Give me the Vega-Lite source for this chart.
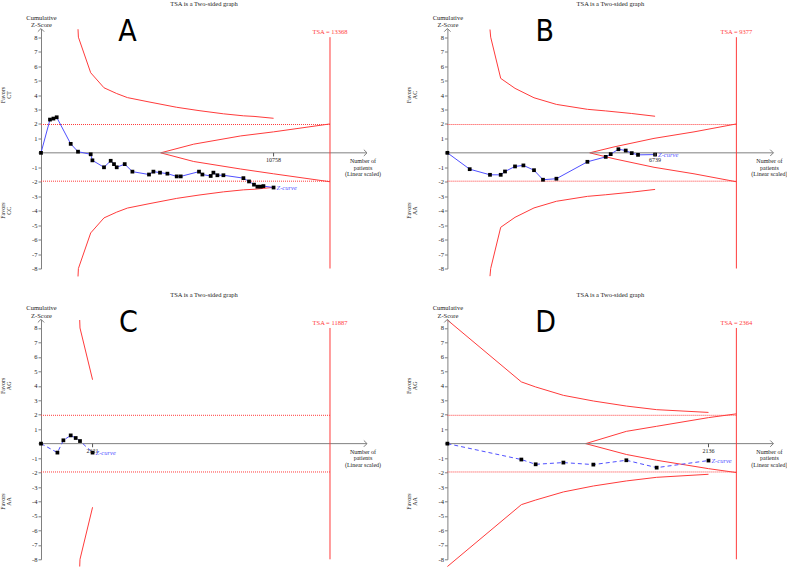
{
"$schema": "https://vega.github.io/schema/vega-lite/v6.json",
"padding": {"left": 0, "top": 0.5, "right": 0, "bottom": 0},
"columns": 2,
"spacing": {"row": 50.8, "column": 80.4},
"bounds": "flush",
"datasets": {
"one": [{}],
"A": [
{"s":"z","n":0,"z":0},{"s":"z","n":416,"z":2.3},{"s":"z","n":574,"z":2.37},{"s":"z","n":726,"z":2.46},{"s":"z","n":1374,"z":0.62},{"s":"z","n":1712,"z":0.08},{"s":"z","n":2299,"z":-0.1},{"s":"z","n":2378,"z":-0.52},{"s":"z","n":2914,"z":-1.0},{"s":"z","n":3224,"z":-0.55},{"s":"z","n":3377,"z":-0.78},{"s":"z","n":3502,"z":-1.0},{"s":"z","n":3872,"z":-0.78},{"s":"z","n":4228,"z":-1.3},{"s":"z","n":4996,"z":-1.5},{"s":"z","n":5200,"z":-1.3},{"s":"z","n":5505,"z":-1.37},{"s":"z","n":5847,"z":-1.44},{"s":"z","n":6278,"z":-1.63},{"s":"z","n":6463,"z":-1.63},{"s":"z","n":7309,"z":-1.3},{"s":"z","n":7466,"z":-1.5},{"s":"z","n":7850,"z":-1.6},{"s":"z","n":7975,"z":-1.37},{"s":"z","n":8160,"z":-1.55},{"s":"z","n":8438,"z":-1.55},{"s":"z","n":9363,"z":-1.75},{"s":"z","n":9622,"z":-1.98},{"s":"z","n":9853,"z":-2.2},{"s":"z","n":10011,"z":-2.34},{"s":"z","n":10163,"z":-2.34},{"s":"z","n":10288,"z":-2.3},{"s":"z","n":10758,"z":-2.4},
{"s":"u","n":1712,"z":8.55},{"s":"u","n":1730,"z":8.0},{"s":"u","n":2299,"z":5.54},{"s":"u","n":2914,"z":4.5},{"s":"u","n":3502,"z":4.1},{"s":"u","n":3997,"z":3.82},{"s":"u","n":4996,"z":3.52},{"s":"u","n":6278,"z":3.15},{"s":"u","n":7309,"z":2.92},{"s":"u","n":8438,"z":2.7},{"s":"u","n":9363,"z":2.56},{"s":"u","n":9853,"z":2.52},{"s":"u","n":10758,"z":2.39},
{"s":"l","n":1712,"z":-8.55},{"s":"l","n":1730,"z":-8.0},{"s":"l","n":2299,"z":-5.54},{"s":"l","n":2914,"z":-4.5},{"s":"l","n":3502,"z":-4.1},{"s":"l","n":3997,"z":-3.82},{"s":"l","n":4996,"z":-3.52},{"s":"l","n":6278,"z":-3.15},{"s":"l","n":7309,"z":-2.92},{"s":"l","n":8438,"z":-2.7},{"s":"l","n":9363,"z":-2.56},{"s":"l","n":9853,"z":-2.52},{"s":"l","n":10758,"z":-2.39},
{"s":"fu","n":5537,"z":0},{"s":"fu","n":7064,"z":0.6},{"s":"fu","n":9238,"z":1.17},{"s":"fu","n":10758,"z":1.45},{"s":"fu","n":13368,"z":2.0},
{"s":"fl","n":5537,"z":0},{"s":"fl","n":7064,"z":-0.6},{"s":"fl","n":9238,"z":-1.12},{"s":"fl","n":10758,"z":-1.45},{"s":"fl","n":13368,"z":-2.0}
],
"B": [
{"s":"z","n":0,"z":0},{"s":"z","n":724,"z":-1.13},{"s":"z","n":1382,"z":-1.52},{"s":"z","n":1730,"z":-1.52},{"s":"z","n":1869,"z":-1.29},{"s":"z","n":2194,"z":-0.94},{"s":"z","n":2466,"z":-0.87},{"s":"z","n":2810,"z":-1.2},{"s":"z","n":3102,"z":-1.86},{"s":"z","n":3537,"z":-1.79},{"s":"z","n":4543,"z":-0.62},{"s":"z","n":5137,"z":-0.28},{"s":"z","n":5299,"z":-0.09},{"s":"z","n":5549,"z":0.25},{"s":"z","n":5786,"z":0.16},{"s":"z","n":5981,"z":-0.02},{"s":"z","n":6185,"z":-0.14},{"s":"z","n":6739,"z":-0.12},
{"s":"u","n":1382,"z":8.53},{"s":"u","n":1405,"z":8.0},{"s":"u","n":1730,"z":5.15},{"s":"u","n":2194,"z":4.46},{"s":"u","n":2810,"z":3.81},{"s":"u","n":3537,"z":3.35},{"s":"u","n":4543,"z":3.01},{"s":"u","n":5137,"z":2.9},{"s":"u","n":5981,"z":2.72},{"s":"u","n":6739,"z":2.53},
{"s":"l","n":1382,"z":-8.53},{"s":"l","n":1405,"z":-8.0},{"s":"l","n":1730,"z":-5.15},{"s":"l","n":2194,"z":-4.46},{"s":"l","n":2810,"z":-3.81},{"s":"l","n":3537,"z":-3.35},{"s":"l","n":4543,"z":-3.01},{"s":"l","n":5137,"z":-2.9},{"s":"l","n":5981,"z":-2.72},{"s":"l","n":6739,"z":-2.53},
{"s":"fu","n":4618,"z":0},{"s":"fu","n":5406,"z":0.41},{"s":"fu","n":6704,"z":1.0},{"s":"fu","n":8002,"z":1.45},{"s":"fu","n":9377,"z":2.0},
{"s":"fl","n":4618,"z":0},{"s":"fl","n":5406,"z":-0.41},{"s":"fl","n":6704,"z":-1.0},{"s":"fl","n":8002,"z":-1.45},{"s":"fl","n":9377,"z":-2.0}
],
"C": [
{"s":"z","n":0,"z":0},{"s":"z","n":675,"z":-0.62},{"s":"z","n":921,"z":0.23},{"s":"z","n":1222,"z":0.57},{"s":"z","n":1427,"z":0.39},{"s":"z","n":1604,"z":0.18},{"s":"z","n":2121,"z":-0.62},
{"s":"u","n":1592,"z":8.55},{"s":"u","n":1604,"z":8.0},{"s":"u","n":2121,"z":4.42},
{"s":"l","n":1592,"z":-8.5},{"s":"l","n":1604,"z":-8.0},{"s":"l","n":2121,"z":-4.4}
],
"D": [
{"s":"z","n":0,"z":0},{"s":"z","n":605,"z":-1.1},{"s":"z","n":722,"z":-1.43},{"s":"z","n":949,"z":-1.31},{"s":"z","n":1194,"z":-1.45},{"s":"z","n":1464,"z":-1.15},{"s":"z","n":1712,"z":-1.66},{"s":"z","n":2136,"z":-1.17},
{"s":"u","n":0,"z":8.55},{"s":"u","n":605,"z":4.27},{"s":"u","n":722,"z":3.92},{"s":"u","n":949,"z":3.34},{"s":"u","n":1194,"z":2.95},{"s":"u","n":1464,"z":2.6},{"s":"u","n":1712,"z":2.35},{"s":"u","n":2136,"z":2.16},
{"s":"l","n":0,"z":-8.5},{"s":"l","n":605,"z":-4.22},{"s":"l","n":722,"z":-3.9},{"s":"l","n":949,"z":-3.34},{"s":"l","n":1194,"z":-2.93},{"s":"l","n":1464,"z":-2.58},{"s":"l","n":1712,"z":-2.33},{"s":"l","n":2136,"z":-2.12},
{"s":"fu","n":1131,"z":0},{"s":"fu","n":1464,"z":0.85},{"s":"fu","n":1712,"z":1.2},{"s":"fu","n":2136,"z":1.8},{"s":"fu","n":2364,"z":2.06},
{"s":"fl","n":1131,"z":0},{"s":"fl","n":1464,"z":-0.75},{"s":"fl","n":1712,"z":-1.15},{"s":"fl","n":2136,"z":-1.73},{"s":"fl","n":2364,"z":-2.0}
]
},
"concat": [
{
"width": 326, "height": 240,
"title": "TSA is a Two-sided graph",
"data": {"name": "one"},
"layer": [
{"data": {"name": "A"}, "transform": [{"filter": "datum.s != 'z'"}], "mark": {"type": "line", "color": "#ff3b3b", "strokeWidth": 1}, "encoding": {"x": {"field": "n", "type": "quantitative", "scale": {"domain": [0, 15080], "nice": false, "zero": false}}, "y": {"field": "z", "type": "quantitative", "scale": {"domain": [-8, 8.6], "nice": false, "zero": false}, "title": ["Cumulative", "Z-Score"]}, "detail": {"field": "s"}}},
{"mark": {"type": "rule", "color": "#808080"}, "encoding": {"x": {"datum": 0}, "x2": {"datum": 15080}, "y": {"datum": 0}}},
{"mark": {"type": "point", "shape": "M-1,-1L0,0L-1,1", "filled": false, "stroke": "#808080", "strokeWidth": 1, "size": 40, "opacity": 1}, "encoding": {"x": {"datum": 15080}, "y": {"datum": 0}}},
{"mark": {"type": "point", "shape": "M-1,1L0,0L1,1", "filled": false, "stroke": "#808080", "strokeWidth": 1, "size": 40, "opacity": 1}, "encoding": {"x": {"datum": 0}, "y": {"datum": 8.6}}},
{"mark": {"type": "rule", "color": "#ff3b3b"}, "encoding": {"x": {"datum": 13368}, "y": {"datum": -8}, "y2": {"datum": 8}}},
{"mark": {"type": "rule", "color": "#ff3b3b", "strokeDash": [1, 1]}, "encoding": {"x": {"datum": 0}, "x2": {"datum": 13368}, "y": {"datum": 1.96}}},
{"mark": {"type": "rule", "color": "#ff3b3b", "strokeDash": [1, 1]}, "encoding": {"x": {"datum": 0}, "x2": {"datum": 13368}, "y": {"datum": -1.96}}},
{"data": {"name": "A"}, "transform": [{"filter": "datum.s == 'z'"}], "mark": {"type": "line", "color": "#5050ff", "strokeWidth": 1}, "encoding": {"x": {"field": "n", "type": "quantitative"}, "y": {"field": "z", "type": "quantitative"}}},
{"data": {"name": "A"}, "transform": [{"filter": "datum.s == 'z'"}], "mark": {"type": "point", "shape": "square", "filled": true, "color": "#000", "size": 14, "opacity": 1}, "encoding": {"x": {"field": "n", "type": "quantitative"}, "y": {"field": "z", "type": "quantitative"}}},
{"mark": {"type": "rule", "color": "#555"}, "encoding": {"x": {"datum": 10758}, "y": {"datum": 0}, "y2": {"datum": -0.25}}},
{"mark": {"type": "text", "text": "10758", "baseline": "top", "dy": 4}, "encoding": {"x": {"datum": 10758}, "y": {"datum": 0}}},
{"mark": {"type": "text", "text": "Z-curve", "align": "left", "dx": 3, "fontStyle": "italic", "fontSize": 6.5, "color": "#5050ff"}, "encoding": {"x": {"datum": 10758}, "y": {"datum": -2.4}}},
{"mark": {"type": "text", "text": "TSA = 13368", "fontSize": 6.5, "color": "#ff3b3b"}, "encoding": {"x": {"datum": 13368}, "y": {"datum": 8.35}}},
{"mark": {"type": "text", "text": ["Number of", "patients", "(Linear scaled)"], "baseline": "top", "dy": 5, "dx": -4, "lineHeight": 6.7}, "encoding": {"x": {"datum": 15080}, "y": {"datum": 0}}},
{"mark": {"type": "text", "text": "A", "font": "'Liberation Sans Narrow', 'DejaVu Sans Condensed', sans-serif", "fontSize": 30, "color": "#000"}, "encoding": {"x": {"datum": 3997}, "y": {"datum": 8.35}}},
{"mark": {"type": "text", "text": ["Favors", "CT"], "angle": 270, "dy": -38, "fontSize": 6, "lineHeight": 5.5}, "encoding": {"x": {"datum": 0}, "y": {"datum": 4}}},
{"mark": {"type": "text", "text": ["Favors", "CC"], "angle": 270, "dy": -38, "fontSize": 6, "lineHeight": 5.5}, "encoding": {"x": {"datum": 0}, "y": {"datum": -4}}}
]
},
{
"width": 326, "height": 240,
"title": "TSA is a Two-sided graph",
"data": {"name": "one"},
"layer": [
{"data": {"name": "B"}, "transform": [{"filter": "datum.s != 'z'"}], "mark": {"type": "line", "color": "#ff3b3b", "strokeWidth": 1}, "encoding": {"x": {"field": "n", "type": "quantitative", "scale": {"domain": [0, 10578], "nice": false, "zero": false}}, "y": {"field": "z", "type": "quantitative", "scale": {"domain": [-8, 8.6], "nice": false, "zero": false}, "title": ["Cumulative", "Z-Score"]}, "detail": {"field": "s"}}},
{"mark": {"type": "rule", "color": "#808080"}, "encoding": {"x": {"datum": 0}, "x2": {"datum": 10578}, "y": {"datum": 0}}},
{"mark": {"type": "point", "shape": "M-1,-1L0,0L-1,1", "filled": false, "stroke": "#808080", "strokeWidth": 1, "size": 40, "opacity": 1}, "encoding": {"x": {"datum": 10578}, "y": {"datum": 0}}},
{"mark": {"type": "point", "shape": "M-1,1L0,0L1,1", "filled": false, "stroke": "#808080", "strokeWidth": 1, "size": 40, "opacity": 1}, "encoding": {"x": {"datum": 0}, "y": {"datum": 8.6}}},
{"mark": {"type": "rule", "color": "#ff3b3b"}, "encoding": {"x": {"datum": 9377}, "y": {"datum": -8}, "y2": {"datum": 8}}},
{"mark": {"type": "rule", "color": "#ff3b3b", "strokeDash": [1, 1]}, "encoding": {"x": {"datum": 0}, "x2": {"datum": 9377}, "y": {"datum": 1.96}}},
{"mark": {"type": "rule", "color": "#ff3b3b", "strokeDash": [1, 1]}, "encoding": {"x": {"datum": 0}, "x2": {"datum": 9377}, "y": {"datum": -1.96}}},
{"data": {"name": "B"}, "transform": [{"filter": "datum.s == 'z'"}], "mark": {"type": "line", "color": "#5050ff", "strokeWidth": 1}, "encoding": {"x": {"field": "n", "type": "quantitative"}, "y": {"field": "z", "type": "quantitative"}}},
{"data": {"name": "B"}, "transform": [{"filter": "datum.s == 'z'"}], "mark": {"type": "point", "shape": "square", "filled": true, "color": "#000", "size": 14, "opacity": 1}, "encoding": {"x": {"field": "n", "type": "quantitative"}, "y": {"field": "z", "type": "quantitative"}}},
{"mark": {"type": "rule", "color": "#555"}, "encoding": {"x": {"datum": 6739}, "y": {"datum": 0}, "y2": {"datum": -0.25}}},
{"mark": {"type": "text", "text": "6739", "baseline": "top", "dy": 4}, "encoding": {"x": {"datum": 6739}, "y": {"datum": 0}}},
{"mark": {"type": "text", "text": "Z-curve", "align": "left", "dx": 3, "fontStyle": "italic", "fontSize": 6.5, "color": "#5050ff"}, "encoding": {"x": {"datum": 6739}, "y": {"datum": -0.12}}},
{"mark": {"type": "text", "text": "TSA = 9377", "fontSize": 6.5, "color": "#ff3b3b"}, "encoding": {"x": {"datum": 9377}, "y": {"datum": 8.35}}},
{"mark": {"type": "text", "text": ["Number of", "patients", "(Linear scaled)"], "baseline": "top", "dy": 5, "dx": -4, "lineHeight": 6.7}, "encoding": {"x": {"datum": 10578}, "y": {"datum": 0}}},
{"mark": {"type": "text", "text": "B", "font": "'Liberation Sans Narrow', 'DejaVu Sans Condensed', sans-serif", "fontSize": 30, "color": "#000"}, "encoding": {"x": {"datum": 3157}, "y": {"datum": 8.35}}},
{"mark": {"type": "text", "text": ["Favors", "AC"], "angle": 270, "dy": -38, "fontSize": 6, "lineHeight": 5.5}, "encoding": {"x": {"datum": 0}, "y": {"datum": 4}}},
{"mark": {"type": "text", "text": ["Favors", "AA"], "angle": 270, "dy": -38, "fontSize": 6, "lineHeight": 5.5}, "encoding": {"x": {"datum": 0}, "y": {"datum": -4}}}
]
},
{
"width": 326, "height": 240,
"title": "TSA is a Two-sided graph",
"data": {"name": "one"},
"layer": [
{"data": {"name": "C"}, "transform": [{"filter": "datum.s != 'z'"}], "mark": {"type": "line", "color": "#ff3b3b", "strokeWidth": 1}, "encoding": {"x": {"field": "n", "type": "quantitative", "scale": {"domain": [0, 13409], "nice": false, "zero": false}}, "y": {"field": "z", "type": "quantitative", "scale": {"domain": [-8, 8.6], "nice": false, "zero": false}, "title": ["Cumulative", "Z-Score"]}, "detail": {"field": "s"}}},
{"mark": {"type": "rule", "color": "#808080"}, "encoding": {"x": {"datum": 0}, "x2": {"datum": 13409}, "y": {"datum": 0}}},
{"mark": {"type": "point", "shape": "M-1,-1L0,0L-1,1", "filled": false, "stroke": "#808080", "strokeWidth": 1, "size": 40, "opacity": 1}, "encoding": {"x": {"datum": 13409}, "y": {"datum": 0}}},
{"mark": {"type": "point", "shape": "M-1,1L0,0L1,1", "filled": false, "stroke": "#808080", "strokeWidth": 1, "size": 40, "opacity": 1}, "encoding": {"x": {"datum": 0}, "y": {"datum": 8.6}}},
{"mark": {"type": "rule", "color": "#ff3b3b"}, "encoding": {"x": {"datum": 11887}, "y": {"datum": -8}, "y2": {"datum": 8}}},
{"mark": {"type": "rule", "color": "#ff3b3b", "strokeDash": [1, 1]}, "encoding": {"x": {"datum": 0}, "x2": {"datum": 11887}, "y": {"datum": 1.96}}},
{"mark": {"type": "rule", "color": "#ff3b3b", "strokeDash": [1, 1]}, "encoding": {"x": {"datum": 0}, "x2": {"datum": 11887}, "y": {"datum": -1.96}}},
{"data": {"name": "C"}, "transform": [{"filter": "datum.s == 'z'"}], "mark": {"type": "line", "color": "#5050ff", "strokeWidth": 1, "strokeDash": [4, 3]}, "encoding": {"x": {"field": "n", "type": "quantitative"}, "y": {"field": "z", "type": "quantitative"}}},
{"data": {"name": "C"}, "transform": [{"filter": "datum.s == 'z'"}], "mark": {"type": "point", "shape": "square", "filled": true, "color": "#000", "size": 14, "opacity": 1}, "encoding": {"x": {"field": "n", "type": "quantitative"}, "y": {"field": "z", "type": "quantitative"}}},
{"mark": {"type": "rule", "color": "#555"}, "encoding": {"x": {"datum": 2121}, "y": {"datum": 0}, "y2": {"datum": -0.25}}},
{"mark": {"type": "text", "text": "2121", "baseline": "top", "dy": 4}, "encoding": {"x": {"datum": 2121}, "y": {"datum": 0}}},
{"mark": {"type": "text", "text": "Z-curve", "align": "left", "dx": 3, "fontStyle": "italic", "fontSize": 6.5, "color": "#5050ff"}, "encoding": {"x": {"datum": 2121}, "y": {"datum": -0.62}}},
{"mark": {"type": "text", "text": "TSA = 11887", "fontSize": 6.5, "color": "#ff3b3b"}, "encoding": {"x": {"datum": 11887}, "y": {"datum": 8.35}}},
{"mark": {"type": "text", "text": ["Number of", "patients", "(Linear scaled)"], "baseline": "top", "dy": 5, "dx": -4, "lineHeight": 6.7}, "encoding": {"x": {"datum": 13409}, "y": {"datum": 0}}},
{"mark": {"type": "text", "text": "C", "font": "'Liberation Sans Narrow', 'DejaVu Sans Condensed', sans-serif", "fontSize": 30, "color": "#000"}, "encoding": {"x": {"datum": 3595}, "y": {"datum": 8.35}}},
{"mark": {"type": "text", "text": ["Favors", "AG"], "angle": 270, "dy": -38, "fontSize": 6, "lineHeight": 5.5}, "encoding": {"x": {"datum": 0}, "y": {"datum": 4}}},
{"mark": {"type": "text", "text": ["Favors", "AA"], "angle": 270, "dy": -38, "fontSize": 6, "lineHeight": 5.5}, "encoding": {"x": {"datum": 0}, "y": {"datum": -4}}}
]
},
{
"width": 326, "height": 240,
"title": "TSA is a Two-sided graph",
"data": {"name": "one"},
"layer": [
{"data": {"name": "D"}, "transform": [{"filter": "datum.s != 'z'"}], "mark": {"type": "line", "color": "#ff3b3b", "strokeWidth": 1}, "encoding": {"x": {"field": "n", "type": "quantitative", "scale": {"domain": [0, 2667], "nice": false, "zero": false}}, "y": {"field": "z", "type": "quantitative", "scale": {"domain": [-8, 8.6], "nice": false, "zero": false}, "title": ["Cumulative", "Z-Score"]}, "detail": {"field": "s"}}},
{"mark": {"type": "rule", "color": "#808080"}, "encoding": {"x": {"datum": 0}, "x2": {"datum": 2667}, "y": {"datum": 0}}},
{"mark": {"type": "point", "shape": "M-1,-1L0,0L-1,1", "filled": false, "stroke": "#808080", "strokeWidth": 1, "size": 40, "opacity": 1}, "encoding": {"x": {"datum": 2667}, "y": {"datum": 0}}},
{"mark": {"type": "point", "shape": "M-1,1L0,0L1,1", "filled": false, "stroke": "#808080", "strokeWidth": 1, "size": 40, "opacity": 1}, "encoding": {"x": {"datum": 0}, "y": {"datum": 8.6}}},
{"mark": {"type": "rule", "color": "#ff3b3b"}, "encoding": {"x": {"datum": 2364}, "y": {"datum": -8}, "y2": {"datum": 8}}},
{"mark": {"type": "rule", "color": "#ff3b3b", "strokeDash": [1, 1]}, "encoding": {"x": {"datum": 0}, "x2": {"datum": 2364}, "y": {"datum": 1.96}}},
{"mark": {"type": "rule", "color": "#ff3b3b", "strokeDash": [1, 1]}, "encoding": {"x": {"datum": 0}, "x2": {"datum": 2364}, "y": {"datum": -1.96}}},
{"data": {"name": "D"}, "transform": [{"filter": "datum.s == 'z'"}], "mark": {"type": "line", "color": "#5050ff", "strokeWidth": 1, "strokeDash": [4, 3]}, "encoding": {"x": {"field": "n", "type": "quantitative"}, "y": {"field": "z", "type": "quantitative"}}},
{"data": {"name": "D"}, "transform": [{"filter": "datum.s == 'z'"}], "mark": {"type": "point", "shape": "square", "filled": true, "color": "#000", "size": 14, "opacity": 1}, "encoding": {"x": {"field": "n", "type": "quantitative"}, "y": {"field": "z", "type": "quantitative"}}},
{"mark": {"type": "rule", "color": "#555"}, "encoding": {"x": {"datum": 2136}, "y": {"datum": 0}, "y2": {"datum": -0.25}}},
{"mark": {"type": "text", "text": "2136", "baseline": "top", "dy": 4}, "encoding": {"x": {"datum": 2136}, "y": {"datum": 0}}},
{"mark": {"type": "text", "text": "Z-curve", "align": "left", "dx": 3, "fontStyle": "italic", "fontSize": 6.5, "color": "#5050ff"}, "encoding": {"x": {"datum": 2136}, "y": {"datum": -1.17}}},
{"mark": {"type": "text", "text": "TSA = 2364", "fontSize": 6.5, "color": "#ff3b3b"}, "encoding": {"x": {"datum": 2364}, "y": {"datum": 8.35}}},
{"mark": {"type": "text", "text": ["Number of", "patients", "(Linear scaled)"], "baseline": "top", "dy": 5, "dx": -4, "lineHeight": 6.7}, "encoding": {"x": {"datum": 2667}, "y": {"datum": 0}}},
{"mark": {"type": "text", "text": "D", "font": "'Liberation Sans Narrow', 'DejaVu Sans Condensed', sans-serif", "fontSize": 30, "color": "#000"}, "encoding": {"x": {"datum": 804}, "y": {"datum": 8.35}}},
{"mark": {"type": "text", "text": ["Favors", "AG"], "angle": 270, "dy": -38, "fontSize": 6, "lineHeight": 5.5}, "encoding": {"x": {"datum": 0}, "y": {"datum": 4}}},
{"mark": {"type": "text", "text": ["Favors", "AA"], "angle": 270, "dy": -38, "fontSize": 6, "lineHeight": 5.5}, "encoding": {"x": {"datum": 0}, "y": {"datum": -4}}}
]
}
],
"config": {
"view": {"stroke": null},
"axisX": {"disable": true},
"axisY": {"tickCount": 17, "labelExpr": "datum.value == 0 ? '' : '' + datum.value", "labelOverlap": false, "domainColor": "#808080", "tickColor": "#808080", "tickSize": 3, "labelFontSize": 6.5, "labelFont": "Liberation Serif", "labelColor": "#222", "labelPadding": 1, "grid": false, "titleAngle": 0, "titleAlign": "center", "titleBaseline": "top", "titleX": 0, "titleY": -14.5, "titleFontSize": 6.5, "titleFont": "Liberation Serif", "titleFontWeight": "normal", "titleColor": "#222", "titleLineHeight": 7.3},
"title": {"fontSize": 6.5, "font": "Liberation Serif", "fontWeight": "normal", "color": "#222", "offset": 6.5, "anchor": "middle", "frame": "group"},
"text": {"font": "Liberation Serif", "fontSize": 6, "color": "#222"}
}
}
